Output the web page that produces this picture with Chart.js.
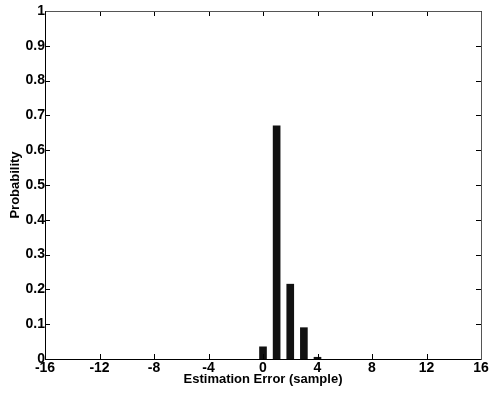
<!DOCTYPE html>
<html>
<head>
<meta charset="utf-8">
<script src="https://cdn.jsdelivr.net/npm/chart.js@4/dist/chart.umd.min.js"></script>
<style>
    html, body { margin: 0; padding: 0; background: #fff; }
    #wrap { width: 494px; height: 396px; }
</style>
</head>
<body>
<div id="wrap"><canvas id="error-histogram-canvas"></canvas></div>
<script>
// estimation error (samples) and its probability
const error_bins = [0, 1, 2, 3, 4];
const probabilities = [0.035, 0.67, 0.215, 0.09, 0.005];

const x_tick_values = [-16, -12, -8, -4, 0, 4, 8, 12, 16];
const y_tick_values = [0, 0.1, 0.2, 0.3, 0.4, 0.5, 0.6, 0.7, 0.8, 0.9, 1];

const FONT = "'Liberation Sans', Arial, sans-serif";

// matlab style box with inward tick marks
const box_ticks_plugin = {
    id: 'box_ticks',
    afterDatasetsDraw(chart) {
        const ctx = chart.ctx;
        const area = chart.chartArea;
        const xs = chart.scales.x;
        const ys = chart.scales.y;
        const len = 5;

        ctx.save();
        ctx.strokeStyle = '#000';
        ctx.lineWidth = 1;
        ctx.beginPath();
        x_tick_values.forEach((v) => {
            let px = Math.round(xs.getPixelForValue(v)) + 0.5;
            ctx.moveTo(px, area.bottom);
            ctx.lineTo(px, area.bottom - len);
            ctx.moveTo(px, area.top);
            ctx.lineTo(px, area.top + len);
        });
        y_tick_values.forEach((v) => {
            let py = Math.round(ys.getPixelForValue(v)) + 0.5;
            ctx.moveTo(area.left, py);
            ctx.lineTo(area.left + len, py);
            ctx.moveTo(area.right, py);
            ctx.lineTo(area.right - len, py);
        });
        ctx.stroke();

        // box
        ctx.beginPath();
        ctx.strokeStyle = '#555';
        ctx.moveTo(area.left + 0.5, area.top + 0.5);
        ctx.lineTo(area.right + 0.5, area.top + 0.5);
        ctx.lineTo(area.right + 0.5, area.bottom + 0.5);
        ctx.stroke();
        ctx.beginPath();
        ctx.strokeStyle = '#000';
        ctx.moveTo(area.left + 0.5, area.top + 0.5);
        ctx.lineTo(area.left + 0.5, area.bottom + 0.5);
        ctx.lineTo(area.right + 0.5, area.bottom + 0.5);
        ctx.stroke();
        ctx.restore();
    }
};

new Chart(document.getElementById('error-histogram-canvas'), {
    type: 'bar',
    data: {
        datasets: [{
            data: error_bins.map((b, i) => ({ x: b, y: probabilities[i] })),
            backgroundColor: '#111',
            borderWidth: 0,
            barThickness: 7
        }]
    },
    options: {
        responsive: true,
        maintainAspectRatio: false,
        animation: false,
        layout: {
            padding: { left: 0, right: 13, top: 11, bottom: 0 }
        },
        plugins: {
            legend: { display: false },
            tooltip: { enabled: false }
        },
        scales: {
            x: {
                type: 'linear',
                min: -16,
                max: 16,
                offset: false,
                afterBuildTicks: (scale) => {
                    scale.ticks = x_tick_values.map((v) => ({ value: v }));
                },
                afterFit: (scale) => { scale.height = 37; },
                grid: { display: false, drawTicks: false, offset: false },
                border: { display: false },
                ticks: {
                    color: '#000',
                    padding: 1,
                    maxRotation: 0,
                    autoSkip: false,
                    font: { family: FONT, size: 14, weight: 'bold' }
                },
                title: {
                    display: true,
                    text: 'Estimation Error (sample)',
                    color: '#000',
                    padding: { top: 0, bottom: 9 },
                    font: { family: FONT, size: 13, weight: 'bold' }
                }
            },
            y: {
                min: 0,
                max: 1,
                afterBuildTicks: (scale) => {
                    scale.ticks = y_tick_values.map((v) => ({ value: v }));
                },
                afterFit: (scale) => { scale.width = 45; },
                grid: { display: false, drawTicks: false },
                border: { display: false },
                ticks: {
                    color: '#000',
                    padding: 0,
                    autoSkip: false,
                    callback: (v) => String(Math.round(v * 10) / 10),
                    font: { family: FONT, size: 14, weight: 'bold' }
                },
                title: {
                    display: true,
                    text: 'Probability',
                    color: '#000',
                    padding: { top: 8, bottom: 0 },
                    font: { family: FONT, size: 13, weight: 'bold' }
                }
            }
        }
    },
    plugins: [box_ticks_plugin]
});
</script>
</body>
</html>
